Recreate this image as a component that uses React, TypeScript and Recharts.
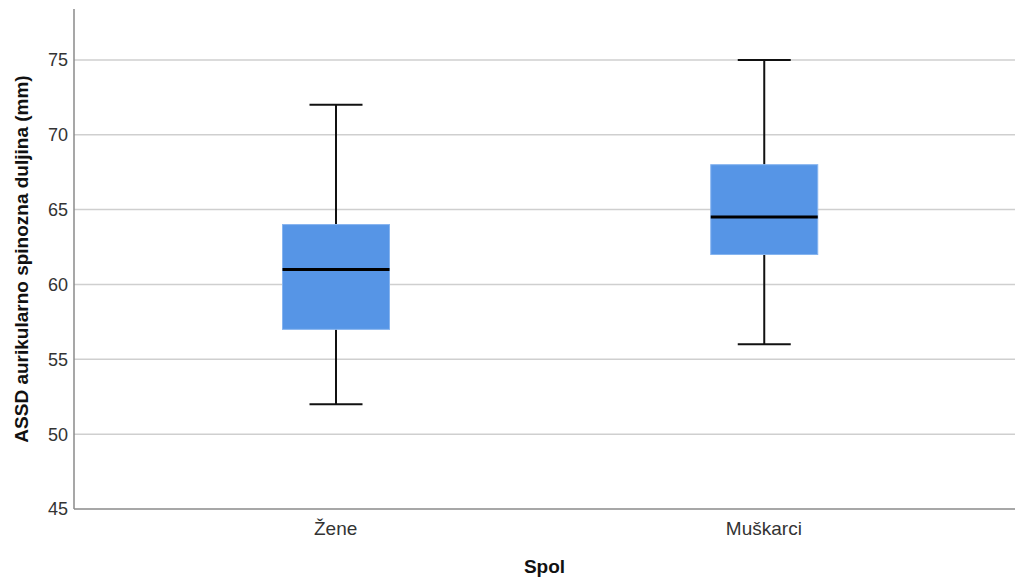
import { ComposedChart, Bar, XAxis, YAxis, CartesianGrid } from "recharts";

const groups = ["Žene", "Muškarci"];
const minimum = [52, 56];
const lowerQuartile = [57, 62];
const median = [61, 64.5];
const upperQuartile = [64, 68];
const maximum = [72, 75];
const yTicks = [45, 50, 55, 60, 65, 70, 75];

const rows = groups.map((name, i) => ({
  name,
  lower: [minimum[i], lowerQuartile[i]],
  upper: [upperQuartile[i], maximum[i]],
  box: [lowerQuartile[i], upperQuartile[i]],
  med: [lowerQuartile[i], median[i]],
}));

const FONT = "'Liberation Sans', Arial, sans-serif";
const BOX_FILL = "#5695e6";
const AXIS_PAD = { left: 47.5, right: 37 };

function span(p: any) {
  const top = Math.min(p.y, p.y + p.height);
  const bottom = Math.max(p.y, p.y + p.height);
  return { top, bottom, cx: p.x + p.width / 2 };
}

const UpperWhisker = (p: any) => {
  const { top, bottom, cx } = span(p);
  return (
    <g stroke="#111" strokeWidth={2}>
      <line x1={cx} x2={cx} y1={top} y2={bottom} />
      <line x1={p.x} x2={p.x + p.width} y1={top} y2={top} />
    </g>
  );
};

const LowerWhisker = (p: any) => {
  const { top, bottom, cx } = span(p);
  return (
    <g stroke="#111" strokeWidth={2}>
      <line x1={cx} x2={cx} y1={top} y2={bottom} />
      <line x1={p.x} x2={p.x + p.width} y1={bottom} y2={bottom} />
    </g>
  );
};

const BoxShape = (p: any) => {
  const { top, bottom } = span(p);
  return (
    <rect
      x={p.x}
      y={top}
      width={p.width}
      height={bottom - top}
      fill={BOX_FILL}
      stroke="#86b4ef"
      strokeWidth={1}
    />
  );
};

const MedianShape = (p: any) => {
  const { top } = span(p);
  return <line x1={p.x} x2={p.x + p.width} y1={top} y2={top} stroke="#000" strokeWidth={3} />;
};

export default function App() {
  return (
    <div style={{ position: "absolute", left: 0, top: 0, background: "#fff" }}>
      <ComposedChart
        width={1015}
        height={579}
        data={rows}
        margin={{ top: 9, right: 0, bottom: 0, left: 0 }}
      >
        <CartesianGrid
          vertical={false}
          horizontalValues={[50, 55, 60, 65, 70, 75]}
          stroke="#cfcfcf"
          strokeWidth={1.5}
        />
        <XAxis
          xAxisId={0}
          dataKey="name"
          type="category"
          padding={AXIS_PAD}
          height={70}
          axisLine={{ stroke: "#8a8a8a", strokeWidth: 1.5 }}
          tickLine={false}
          tickMargin={7}
          tick={{ fill: "#333", fontSize: 19, fontFamily: FONT }}
          label={{
            content: (lp: any) => {
              const vb = lp.viewBox;
              return (
                <text
                  x={vb.x + vb.width / 2}
                  y={573}
                  textAnchor="middle"
                  fontFamily={FONT}
                  fontSize={19}
                  fontWeight="bold"
                  fill="#111"
                >
                  Spol
                </text>
              );
            },
          }}
        />
        <XAxis xAxisId={1} dataKey="name" type="category" padding={AXIS_PAD} hide />
        <XAxis xAxisId={2} dataKey="name" type="category" padding={AXIS_PAD} hide />
        <XAxis xAxisId={3} dataKey="name" type="category" padding={AXIS_PAD} hide />
        <YAxis
          type="number"
          domain={[45, 78.4]}
          ticks={yTicks}
          allowDataOverflow
          width={74}
          axisLine={{ stroke: "#8a8a8a", strokeWidth: 1.5 }}
          tickLine={false}
          tickSize={4}
          tick={{ fill: "#333", fontSize: 18, fontFamily: FONT }}
          label={{
            content: (lp: any) => {
              const vb = lp.viewBox;
              const cy = vb.y + vb.height / 2;
              return (
                <text
                  x={21}
                  y={cy}
                  transform={`rotate(-90, 21, ${cy})`}
                  textAnchor="middle"
                  dominantBaseline="central"
                  fontFamily={FONT}
                  fontSize={19}
                  fontWeight="bold"
                  fill="#111"
                >
                  ASSD aurikularno spinozna duljina (mm)
                </text>
              );
            },
          }}
        />
        <Bar xAxisId={0} dataKey="upper" barSize={53} shape={UpperWhisker} isAnimationActive={false} />
        <Bar xAxisId={1} dataKey="lower" barSize={53} shape={LowerWhisker} isAnimationActive={false} />
        <Bar xAxisId={2} dataKey="box" barSize={107} shape={BoxShape} isAnimationActive={false} />
        <Bar xAxisId={3} dataKey="med" barSize={107} shape={MedianShape} isAnimationActive={false} />
      </ComposedChart>
    </div>
  );
}
